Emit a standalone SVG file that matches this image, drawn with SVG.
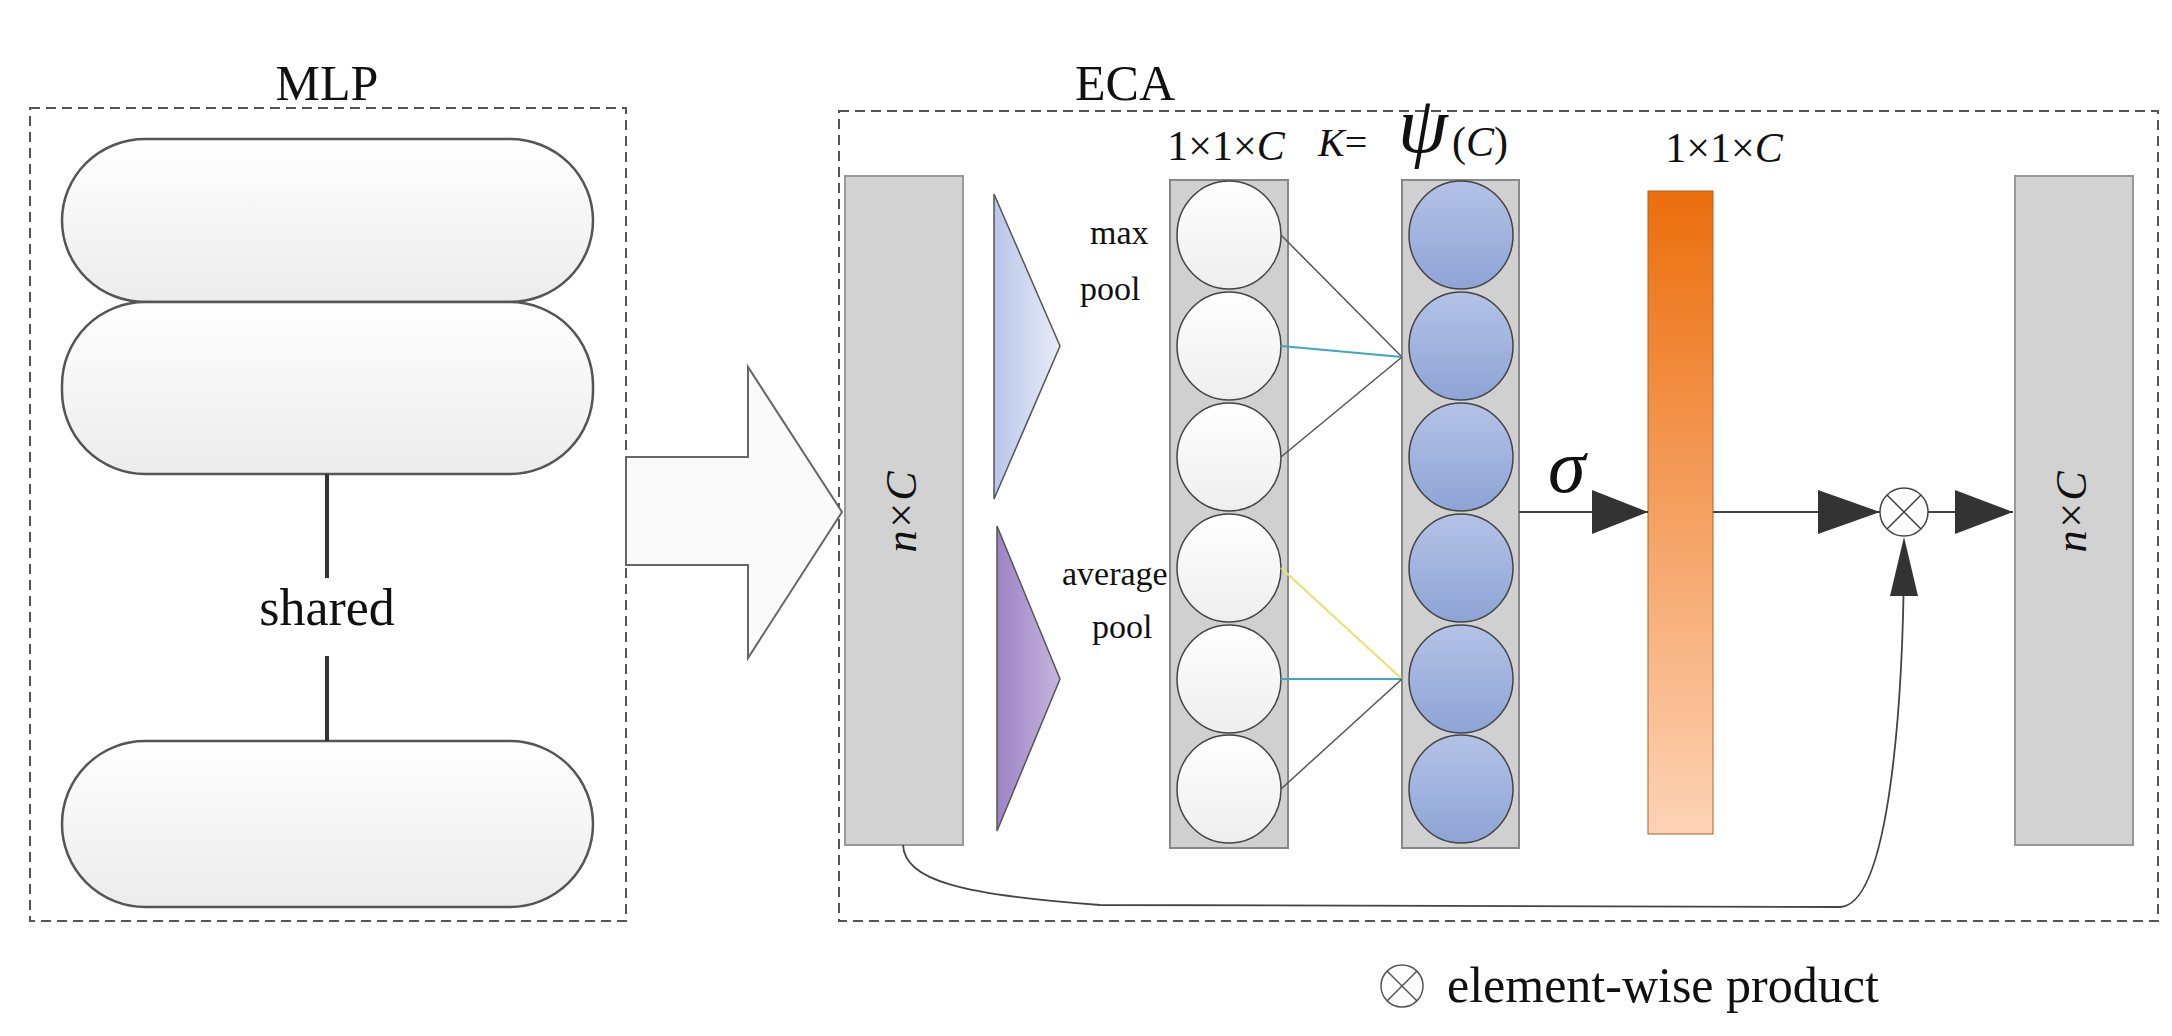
<svg xmlns="http://www.w3.org/2000/svg" width="2172" height="1036" viewBox="0 0 2172 1036">
<style>
text{font-family:"Liberation Serif","Times New Roman","DejaVu Serif",serif;fill:#111}
.dash{fill:none;stroke:#555;stroke-width:2;stroke-dasharray:10 6}
.pill{fill:url(#pg);stroke:#555;stroke-width:2.5}
.col{fill:#d0d0d0;stroke:#888;stroke-width:2}
.wc{fill:url(#wg);stroke:#444;stroke-width:1.5}
.bc{fill:url(#bg);stroke:#444;stroke-width:1.5}
.ln{stroke:#555;stroke-width:1.5;fill:none}
.ar{stroke:#444;stroke-width:1.8;fill:none}
</style>
<defs>
<linearGradient id="pg" x1="0" y1="0" x2="0" y2="1"><stop offset="0" stop-color="#fff"/><stop offset="1" stop-color="#ececec"/></linearGradient>
<linearGradient id="wg" x1="0" y1="0" x2="0" y2="1"><stop offset="0" stop-color="#fff"/><stop offset="1" stop-color="#eee"/></linearGradient>
<linearGradient id="bg" x1="0" y1="0" x2="0" y2="1"><stop offset="0" stop-color="#b4c2e6"/><stop offset="1" stop-color="#8ea4d6"/></linearGradient>
<linearGradient id="og" x1="0" y1="0" x2="0" y2="1"><stop offset="0" stop-color="#ec6e0c"/><stop offset="1" stop-color="#fdd3b6"/></linearGradient>
<linearGradient id="mg" x1="0" y1="0" x2="1" y2="0"><stop offset="0" stop-color="#b9c6ea"/><stop offset="1" stop-color="#e8ecf7"/></linearGradient>
<linearGradient id="ag" x1="0" y1="0" x2="1" y2="0"><stop offset="0" stop-color="#9d83c5"/><stop offset="1" stop-color="#c7b5dd"/></linearGradient>
</defs>
<text x="327" y="100" font-size="50" text-anchor="middle">MLP</text>
<text x="1125" y="100" font-size="50" text-anchor="middle">ECA</text>
<rect class="dash" x="30" y="108" width="596" height="813"/>
<rect class="dash" x="839" y="111" width="1319" height="810"/>
<g id="mlp">
<rect class="pill" x="62" y="139" width="531" height="163" rx="83"/>
<rect class="pill" x="62" y="302" width="531" height="172" rx="83"/>
<rect class="pill" x="62" y="741" width="531" height="166" rx="83"/>
<line x1="327" y1="474" x2="327" y2="578" stroke="#333" stroke-width="4"/>
<line x1="327" y1="656" x2="327" y2="741" stroke="#333" stroke-width="4"/>
<text x="327" y="625" font-size="52" text-anchor="middle">shared</text>
</g>
<g id="bigarrow"><path d="M626,457 H748 V367 L842,512 L748,658 V565 H626 Z" fill="#fafafa" stroke="#666" stroke-width="2"/></g>
<g id="input"><rect x="845" y="176" width="118" height="669" fill="#d2d2d2" stroke="#999" stroke-width="2"/>
<text transform="translate(916,512) rotate(-90)" font-size="44" text-anchor="middle" font-style="italic">n×C</text></g>
<g id="maxpool"><path d="M994,194 L1060,346 L994,499 Z" fill="url(#mg)" stroke="#555" stroke-width="1.5"/>
<text x="1090" y="244" font-size="34">max</text><text x="1080" y="300" font-size="34">pool</text></g>
<g id="avgpool"><path d="M997,526 L1060,679 L997,831 Z" fill="url(#ag)" stroke="#555" stroke-width="1.5"/>
<text x="1062" y="585" font-size="34">average</text><text x="1092" y="638" font-size="34">pool</text></g>
<g id="col1"><rect class="col" x="1170" y="180" width="118" height="668"/>
<ellipse class="wc" cx="1229" cy="235" rx="52" ry="54"/><ellipse class="wc" cx="1229" cy="346" rx="52" ry="54"/><ellipse class="wc" cx="1229" cy="457" rx="52" ry="54"/><ellipse class="wc" cx="1229" cy="568" rx="52" ry="54"/><ellipse class="wc" cx="1229" cy="679" rx="52" ry="54"/><ellipse class="wc" cx="1229" cy="789" rx="52" ry="54"/></g>
<g id="col2"><rect class="col" x="1402" y="180" width="117" height="668"/>
<ellipse class="bc" cx="1461" cy="235" rx="52" ry="54"/><ellipse class="bc" cx="1461" cy="346" rx="52" ry="54"/><ellipse class="bc" cx="1461" cy="457" rx="52" ry="54"/><ellipse class="bc" cx="1461" cy="568" rx="52" ry="54"/><ellipse class="bc" cx="1461" cy="679" rx="52" ry="54"/><ellipse class="bc" cx="1461" cy="789" rx="52" ry="54"/></g>
<g id="labels">
<text x="1226" y="160" font-size="42" text-anchor="middle">1×1×<tspan font-style="italic">C</tspan></text>
<text x="1318" y="156" font-size="40"><tspan font-style="italic">K</tspan>=</text>
<text x="1398" y="152" font-size="80" font-style="italic">ψ</text>
<text x="1452" y="156" font-size="42">(<tspan font-style="italic">C</tspan>)</text>
<text x="1724" y="162" font-size="42" text-anchor="middle">1×1×<tspan font-style="italic">C</tspan></text>
<text x="1548" y="492" font-size="76" font-style="italic">σ</text>
</g>
<g id="gate"><rect x="1648" y="191" width="65" height="643" fill="url(#og)" stroke="#b06030" stroke-width="1"/></g>
<g id="output"><rect x="2015" y="176" width="118" height="669" fill="#d2d2d2" stroke="#999" stroke-width="2"/>
<text transform="translate(2086,512) rotate(-90)" font-size="44" text-anchor="middle" font-style="italic">n×C</text></g>
<g id="mult"><circle cx="1904" cy="512" r="24" fill="#fff" stroke="#444" stroke-width="1.5"/>
<path d="M1887,495 L1921,529 M1921,495 L1887,529" stroke="#444" stroke-width="1.5"/></g>
<g id="connectors">
<line class="ln" x1="1281" y1="235" x2="1402" y2="357"/>
<line x1="1281" y1="346" x2="1402" y2="357" stroke="#3aa6c8" stroke-width="2"/>
<line class="ln" x1="1281" y1="457" x2="1402" y2="357"/>
<line x1="1281" y1="568" x2="1402" y2="679" stroke="#e5e36a" stroke-width="2"/>
<line x1="1281" y1="679" x2="1402" y2="679" stroke="#3aa6c8" stroke-width="2"/>
<line class="ln" x1="1281" y1="789" x2="1402" y2="679"/>
<line class="ar" x1="1519" y1="512" x2="1648" y2="512"/><path d="M1592,490 L1648,512 L1592,534 Z" fill="#333"/>
<line class="ar" x1="1713" y1="512" x2="1880" y2="512"/><path d="M1818,490 L1880,512 L1818,534 Z" fill="#333"/>
<line class="ar" x1="1928" y1="512" x2="2013" y2="512"/><path d="M1955,490 L2013,512 L1955,534 Z" fill="#333"/>
<path class="ar" d="M903,845 C905,880 960,895 1100,905 L1840,907 C1890,905 1903,700 1904,560"/>
<path d="M1890,596 L1904,537 L1918,596 Z" fill="#333"/>
</g>
<g id="legend"><circle cx="1402" cy="986" r="21" fill="#fff" stroke="#555" stroke-width="1.5"/>
<path d="M1387,971 L1417,1001 M1417,971 L1387,1001" stroke="#555" stroke-width="1.5"/>
<text x="1447" y="1002" font-size="50">element-wise product</text></g>
</svg>
